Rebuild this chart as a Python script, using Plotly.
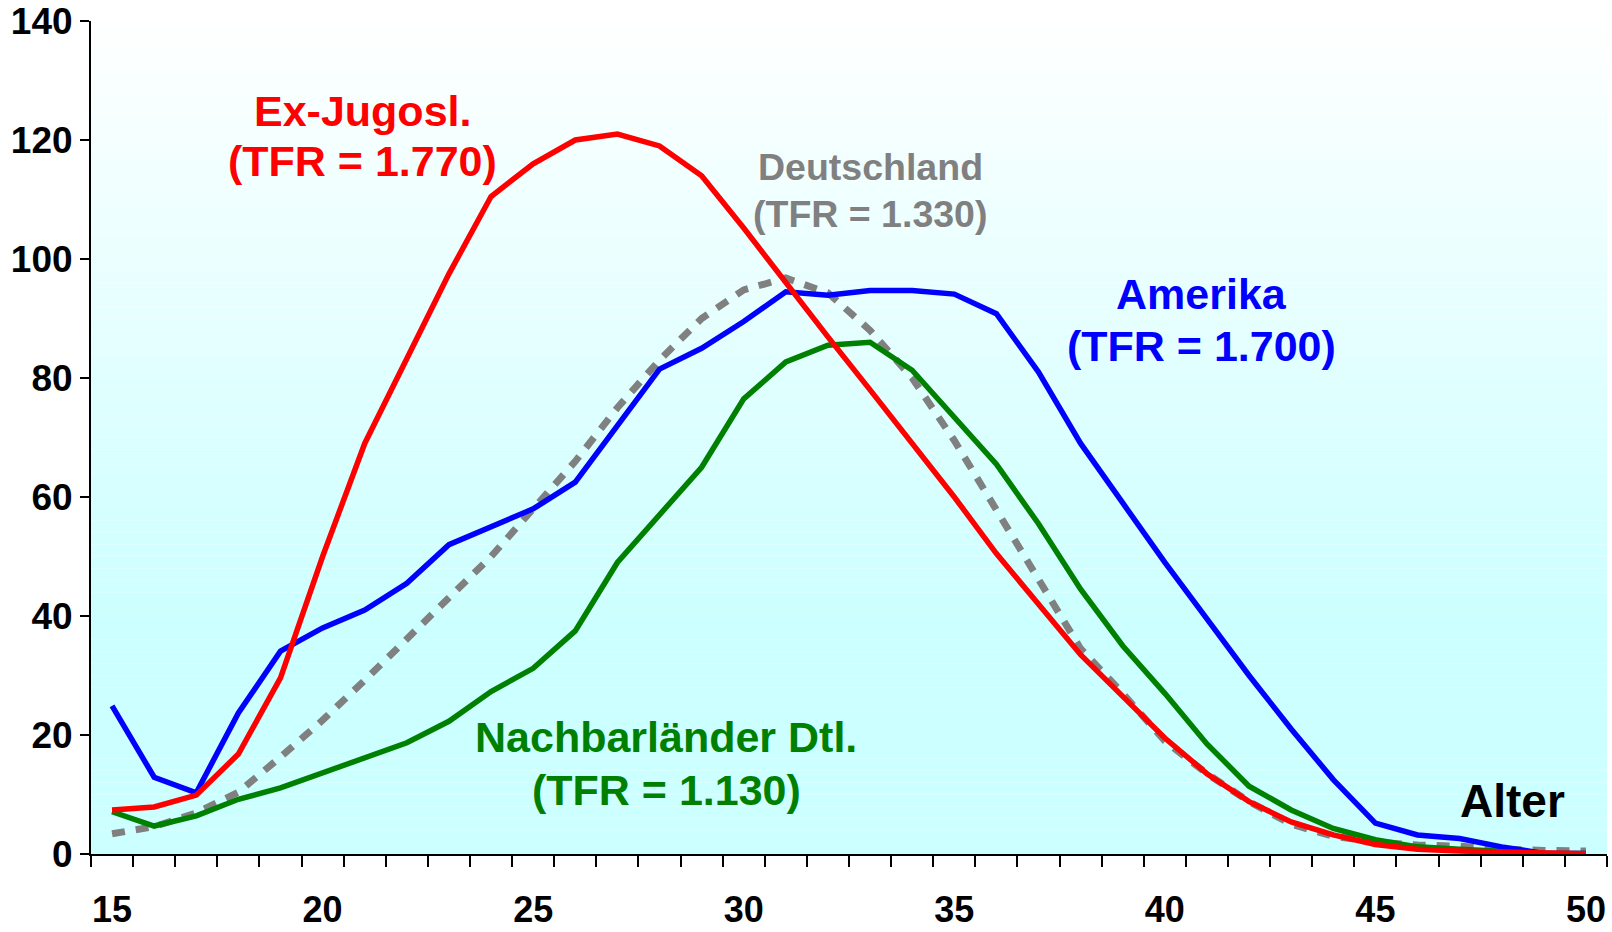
import plotly.graph_objects as go

ages = list(range(15, 51))

ex_jugosl = [7.4, 7.9, 9.9, 16.8, 29.6, 50, 69, 83, 97.5, 110.5, 116, 120, 121, 119, 114, 105.2,
             96, 86.9, 78, 69, 60, 50.5, 42, 33.5, 26.5, 19.5, 13.5, 8.8, 5.4, 3.2, 1.6, 0.8,
             0.5, 0.3, 0.05, 0.05]
amerika = [24.9, 12.9, 10.3, 23.7, 34.1, 38, 41, 45.5, 52, 55, 58, 62.5, 72, 81.5, 85, 89.5,
           94.5, 93.9, 94.7, 94.7, 94.1, 90.8, 81, 69, 59, 49, 39.5, 30, 21, 12.5, 5.2, 3.2,
           2.6, 1.2, 0.1, 0.1]
nachbar = [7.1, 4.7, 6.4, 9.2, 11.1, 13.6, 16.3, 18.7, 22.3, 27.3, 31.2, 37.5, 49, 57, 65, 76.5,
           82.7, 85.5, 86, 81.3, 73.5, 65.5, 55.5, 44.5, 35, 27, 18.5, 11.4, 7.4, 4.3, 2.4, 1.2,
           0.8, 0.4, 0.1, 0.1]
deutschland = [3.4, 4.6, 6.9, 10.4, 16.3, 22.5, 29.2, 36, 43, 50, 58, 66, 75, 83, 90, 94.8,
               96.8, 94.3, 88, 80, 69.5, 58, 46, 34.5, 27, 19, 13.5, 8.8, 5, 3, 2, 1.5,
               1.3, 0.8, 0.6, 0.5]

x_tick_vals = [15, 20, 25, 30, 35, 40, 45, 50]
y_tick_vals = [0, 20, 40, 60, 80, 100, 120, 140]

FONT = "Liberation Sans, Arial, sans-serif"

fig = go.Figure()

# vertical gradient background: white at top -> light cyan lower down
n_bands = 70
top, full_at = 140.0, 40.0
shapes = []
for i in range(n_bands):
    y0 = i * 140.0 / n_bands
    y1 = (i + 1) * 140.0 / n_bands
    ym = (y0 + y1) / 2
    t = min(1.0, max(0.0, (top - ym) / (top - full_at)))
    r = round(255 - (255 - 204) * t)
    shapes.append(dict(type="rect", xref="paper", yref="y", x0=0, x1=1, y0=y0, y1=y1,
                       fillcolor=f"rgb({r},255,255)", line=dict(width=0), layer="below"))

fig.add_trace(go.Scatter(x=ages, y=deutschland, mode="lines", name="Deutschland",
                         line=dict(color="#808080", width=7, dash="13px,11px")))
fig.add_trace(go.Scatter(x=ages, y=nachbar, mode="lines", name="Nachbarländer Dtl.",
                         line=dict(color="#008000", width=5.5)))
fig.add_trace(go.Scatter(x=ages, y=amerika, mode="lines", name="Amerika",
                         line=dict(color="#0000FF", width=5.5)))
fig.add_trace(go.Scatter(x=ages, y=ex_jugosl, mode="lines", name="Ex-Jugosl.",
                         line=dict(color="#FF0000", width=5.5)))

def ann(text, x, y, color, size):
    return dict(text=f"<b>{text}</b>", x=x, y=y, xref="x", yref="y", showarrow=False,
                font=dict(family=FONT, size=size, color=color), xanchor="center", yanchor="middle")

annotations = [
    ann("Ex-Jugosl.", 20.94, 124.9, "#FF0000", 43),
    ann("(TFR = 1.770)", 20.94, 116.5, "#FF0000", 43),
    ann("Deutschland", 33.0, 115.5, "#808080", 37.5),
    ann("(TFR = 1.330)", 33.0, 107.6, "#808080", 37.5),
    ann("Amerika", 40.87, 94.1, "#0000FF", 43),
    ann("(TFR = 1.700)", 40.87, 85.4, "#0000FF", 43),
    ann("Nachbarländer Dtl.", 28.16, 19.7, "#008000", 43),
    ann("(TFR = 1.130)", 28.16, 10.8, "#008000", 43),
    ann("Alter", 48.25, 8.9, "#000000", 46),
]

fig.update_layout(
    width=1612, height=932,
    margin=dict(l=91, r=5, t=21, b=78),
    paper_bgcolor="white", plot_bgcolor="white",
    showlegend=False,
    shapes=shapes,
    annotations=annotations,
    xaxis=dict(range=[14.5, 50.5], tickvals=x_tick_vals, ticktext=[str(v) for v in x_tick_vals],
               ticks="", ticklabelstandoff=23, showgrid=False, zeroline=False, automargin=False,
               showline=True, linecolor="black", linewidth=2,
               tickfont=dict(family=FONT, size=36, color="black", weight="bold"),
               minor=dict(tick0=14.5, dtick=1, ticks="outside", ticklen=11, tickwidth=2,
                          tickcolor="black", showgrid=False)),
    yaxis=dict(range=[0, 140], tickvals=y_tick_vals, ticks="outside", ticklen=9, tickwidth=2,
               tickcolor="black", showgrid=False, zeroline=False, automargin=False,
               showline=True, linecolor="black", linewidth=2,
               tickfont=dict(family=FONT, size=37, color="black", weight="bold")),
)

fig.write_html("out.html",
               config={"displayModeBar": False},
               post_script="document.body.style.margin='0';document.body.style.overflow='hidden';")
